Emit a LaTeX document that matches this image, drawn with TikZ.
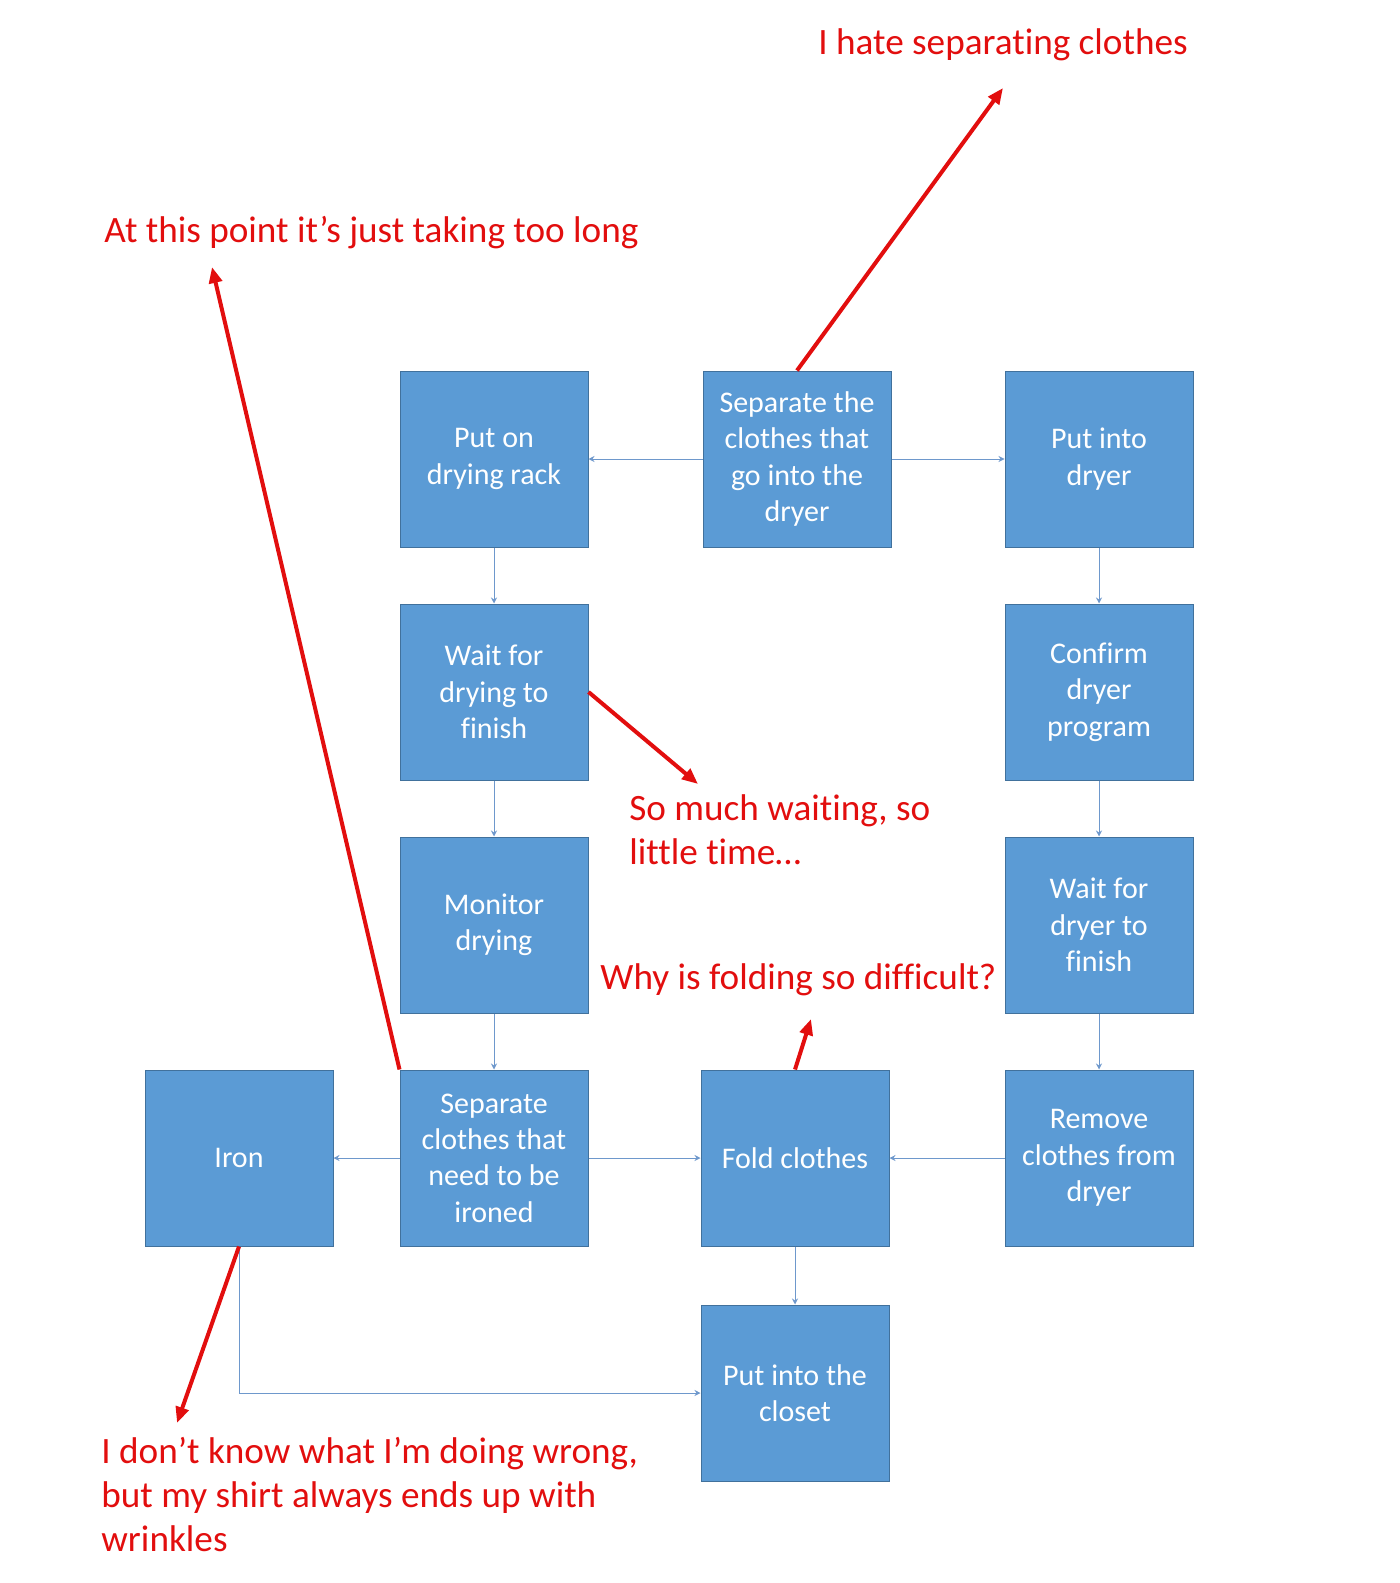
\documentclass[tikz,border=0pt]{standalone}
\usepackage{fontspec}
\setmainfont{Carlito}[Ligatures=NoCommon]
\usepackage{xcolor}
\usetikzlibrary{arrows.meta}
\definecolor{boxblue}{RGB}{91,155,213}
\definecolor{boxedge}{RGB}{65,113,156}
\definecolor{linkblue}{RGB}{110,152,204}
\definecolor{rantred}{RGB}{226,14,14}

\begin{document}
\begin{tikzpicture}[x=0.5pt,y=-0.5pt,
	stepbox/.style={draw=boxedge, line width=0.5pt, fill=boxblue, text=white,
		minimum width=94pt, minimum height=88pt, inner sep=0pt, align=center,
		font=\fontsize{15}{18.2}\selectfont},
	link/.style={draw=linkblue, line width=0.5pt, -{Stealth[length=3pt,width=3pt]}},
	rant/.style={draw=rantred, line width=2pt, -{Triangle[length=8pt,width=6.5pt]}},
	ranttext/.style={text=rantred, anchor=west, inner sep=0pt, align=left,
		font=\fontsize{18.6}{22}\selectfont}]
	\useasboundingbox (0,0) rectangle (1400,1583);

	%% Boxes, row by row
	\node[stepbox] (rack) at (494,459) {Put on\\drying rack};
	\node[stepbox] (sepdry) at (797,459) {Separate the\\clothes that\\go into the\\dryer};
	\node[stepbox] (dryer) at (1099,459) {Put into\\dryer};

	\node[stepbox] (waitrack) at (494,692) {Wait for\\drying to\\finish};
	\node[stepbox] (confirm) at (1099,692) {Confirm\\dryer\\program};

	\node[stepbox] (monitor) at (494,925) {Monitor\\drying};
	\node[stepbox] (waitdry) at (1099,925) {Wait for\\dryer to\\finish};

	\node[stepbox] (iron) at (239,1158) {Iron};
	\node[stepbox] (sepiron) at (494,1158) {Separate\\clothes that\\need to be\\ironed};
	\node[stepbox] (fold) at (795,1158) {Fold clothes};
	\node[stepbox] (remove) at (1099,1158) {Remove\\clothes from\\dryer};

	\node[stepbox] (closet) at (795,1393) {Put into the\\closet};

	% Flow
	\draw[link] (sepdry) -- (rack);
	\draw[link] (sepdry) -- (dryer);
	\draw[link] (rack) -- (waitrack);
	\draw[link] (waitrack) -- (monitor);
	\draw[link] (monitor) -- (sepiron);
	\draw[link] (dryer) -- (confirm);
	\draw[link] (confirm) -- (waitdry);
	\draw[link] (waitdry) -- (remove);
	\draw[link] (remove) -- (fold);
	\draw[link] (sepiron) -- (iron);
	\draw[link] (sepiron) -- (fold);
	\draw[link] (fold) -- (closet);
	\draw[link] (iron.south) |- (closet.west);

	%% Complaints
	\node[ranttext] (hate) at (818,45) {I hate separating clothes};
	\node[ranttext] (toolong) at (104,233) {At this point it’s just taking too long};
	\node[ranttext] (waiting) at (629,830) {So much waiting, so\\little time…};
	\node[ranttext] (folding) at (600,980) {Why is folding so difficult?};
	\node[ranttext] (wrinkles) at (101,1495) {I don’t know what I’m doing wrong,\\but my shirt always ends up with\\wrinkles};

	\coordinate (hatetip) at (1003,88);
	\coordinate (longtip) at (212,267);
	\coordinate (waittip) at (698,784);
	\coordinate (foldtip) at (811,1019);
	\coordinate (irontip) at (177,1423);

	\draw[rant] (sepdry.north) -- (hatetip);
	\draw[rant] (sepiron.north west) -- (longtip);
	\draw[rant] (waitrack.east) -- (waittip);
	\draw[rant] (fold.north) -- (foldtip);
	\draw[rant] (iron.south) -- (irontip);
\end{tikzpicture}
\end{document}
